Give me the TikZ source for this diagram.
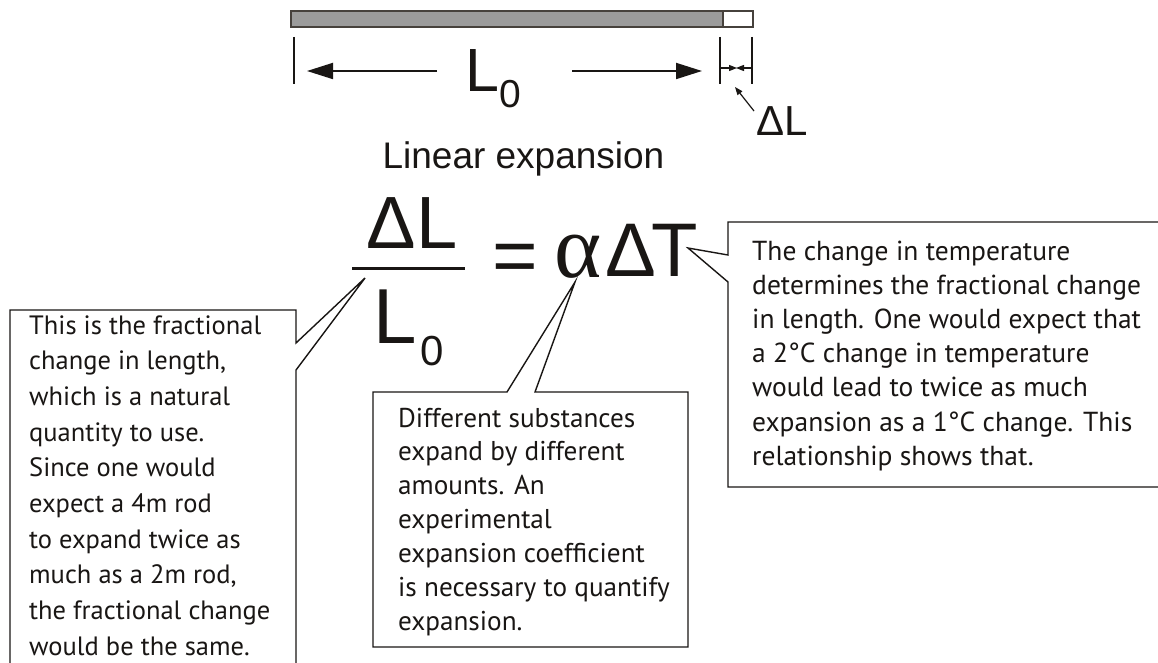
\documentclass[tikz,border=0pt]{standalone}
\usepackage{fontspec}
\setmainfont{Liberation Sans}
\newfontfamily\callfont{PT Sans}
\newfontfamily\serifgr{Liberation Serif}
\usetikzlibrary{arrows.meta}
\newcommand\fsz[1]{\fontsize{#1}{#1}\selectfont}
\definecolor{rodgray}{RGB}{155,155,155}
\definecolor{rodedge}{RGB}{70,65,60}
\definecolor{ink}{RGB}{25,22,20}
\tikzset{
  rodpart/.style={draw=rodedge, line width=1.6pt, inner sep=0pt, anchor=north west, minimum height=16pt},
  tickline/.style={draw=ink, line width=1.8pt},
  dimarrow/.style={draw=ink, line width=1.8pt, -{Triangle[length=26pt,width=16pt]}},
  smallarrow/.style={draw=ink, line width=1.2pt, -{Triangle[length=8pt,width=6pt]}},
  callout/.style={draw=ink, fill=white, line width=1.4pt, line join=miter},
  calltext/.style={anchor=base west, inner sep=0pt, text=ink, font=\callfont\fsz{#1}},
  bigtext/.style={anchor=base west, inner sep=0pt, text=ink},
}
\begin{document}
\begin{tikzpicture}[x=1pt,y=-1pt]
\useasboundingbox (0,0) rectangle (1158,663);
\clip (0,0) rectangle (1158,663);
\fill[white] (0,0) rectangle (1158,663);

% rod
\node[rodpart, fill=rodgray, minimum width=432pt] (rod) at (290,10) {};
\node[rodpart, fill=white, minimum width=30pt] (ext) at (722,10) {};

% dimension ticks
\coordinate (t1a) at (294,37); \coordinate (t1b) at (294,84);
\coordinate (t2a) at (720,37); \coordinate (t2b) at (720,84);
\coordinate (t3a) at (752,37); \coordinate (t3b) at (752,84);
\draw[tickline] (t1a) -- (t1b);
\draw[tickline] (t2a) -- (t2b);
\draw[tickline] (t3a) -- (t3b);

% L0 label and arrows
\node[bigtext] (Ltop) at (465,92) {\fsz{61}L\raisebox{-16pt}{\fsz{39}0}};
\coordinate (la1) at (437,71); \coordinate (la2) at (307,71);
\coordinate (ra1) at (572,71); \coordinate (ra2) at (702,71);
\draw[dimarrow] (la1) -- (la2);
\draw[dimarrow] (ra1) -- (ra2);

% small Delta L dimension
\coordinate (d1) at (721,68); \coordinate (d2) at (737,68); \coordinate (d3) at (751,68); \coordinate (d4) at (736,68);
\draw[smallarrow] (d1) -- (d2);
\draw[smallarrow] (d3) -- (d4);
\node[bigtext] (dL) at (756,136) {\fsz{42}ΔL};
\coordinate (pa) at (754,111); \coordinate (pb) at (735,87);
\draw[smallarrow] (pa) -- (pb);

% title
\node[anchor=base, inner sep=0pt, text=ink] (title) at (523.5,168) {\fsz{37}Linear expansion};

% callouts
\draw[callout] (10,310) -- (296,310) -- (296,343) -- (365,278) -- (296,370) -- (296,670) -- (10,670) -- cycle;
\draw[callout] (373,392) -- (507,392) -- (575,282) -- (535,392) -- (688,392) -- (688,647) -- (373,647) -- cycle;
\draw[callout] (728,222) -- (1170,222) -- (1170,487) -- (728,487) -- (728,282) -- (688,248) -- (728,255) -- cycle;

% formula
\node[anchor=base, inner sep=0pt, text=ink] (num) at (412,248) {\fsz{74}ΔL};
\coordinate (bar1) at (352,268); \coordinate (bar2) at (465,268);
\draw[draw=ink, line width=3pt] (bar1) -- (bar2);
\node[bigtext] (den) at (373,343) {\fsz{78}L\kern4pt\raisebox{-22pt}{\fsz{42}0}};
\node[bigtext] (eq) at (492,282) {\fsz{78}=};
\node[bigtext] (alpha) at (554,277) {\serifgr\fsz{90}α};
\node[bigtext] (dT) at (605,276) {\fsz{76}Δ\kern-5pt T};

% callout texts
\foreach \t [count=\i] in {This is the fractional, {change in length,}, which is a natural, quantity to use., Since one would, expect a 4m rod, to expand twice as, {much as a 2m rod,}, the fractional change, would be the same.}
  \node[calltext=26.5] (ta\i) at (29,{334+35.7*(\i-1)}) {\t};
\foreach \t [count=\i] in {Different substances, expand by different, amounts. An, experimental, expansion coefficient, is necessary to quantify, expansion.}
  \node[calltext=27.2] (tb\i) at (398,{427+33.9*(\i-1)}) {\t};
\foreach \t [count=\i] in {The change in temperature, determines the fractional change, in length. One would expect that, a 2°C change in temperature, would lead to twice as much, expansion as a 1°C change. This, relationship shows that.}
  \node[calltext=27.5] (tc\i) at (752,{260+34.2*(\i-1)}) {\t};
\end{tikzpicture}
\end{document}
